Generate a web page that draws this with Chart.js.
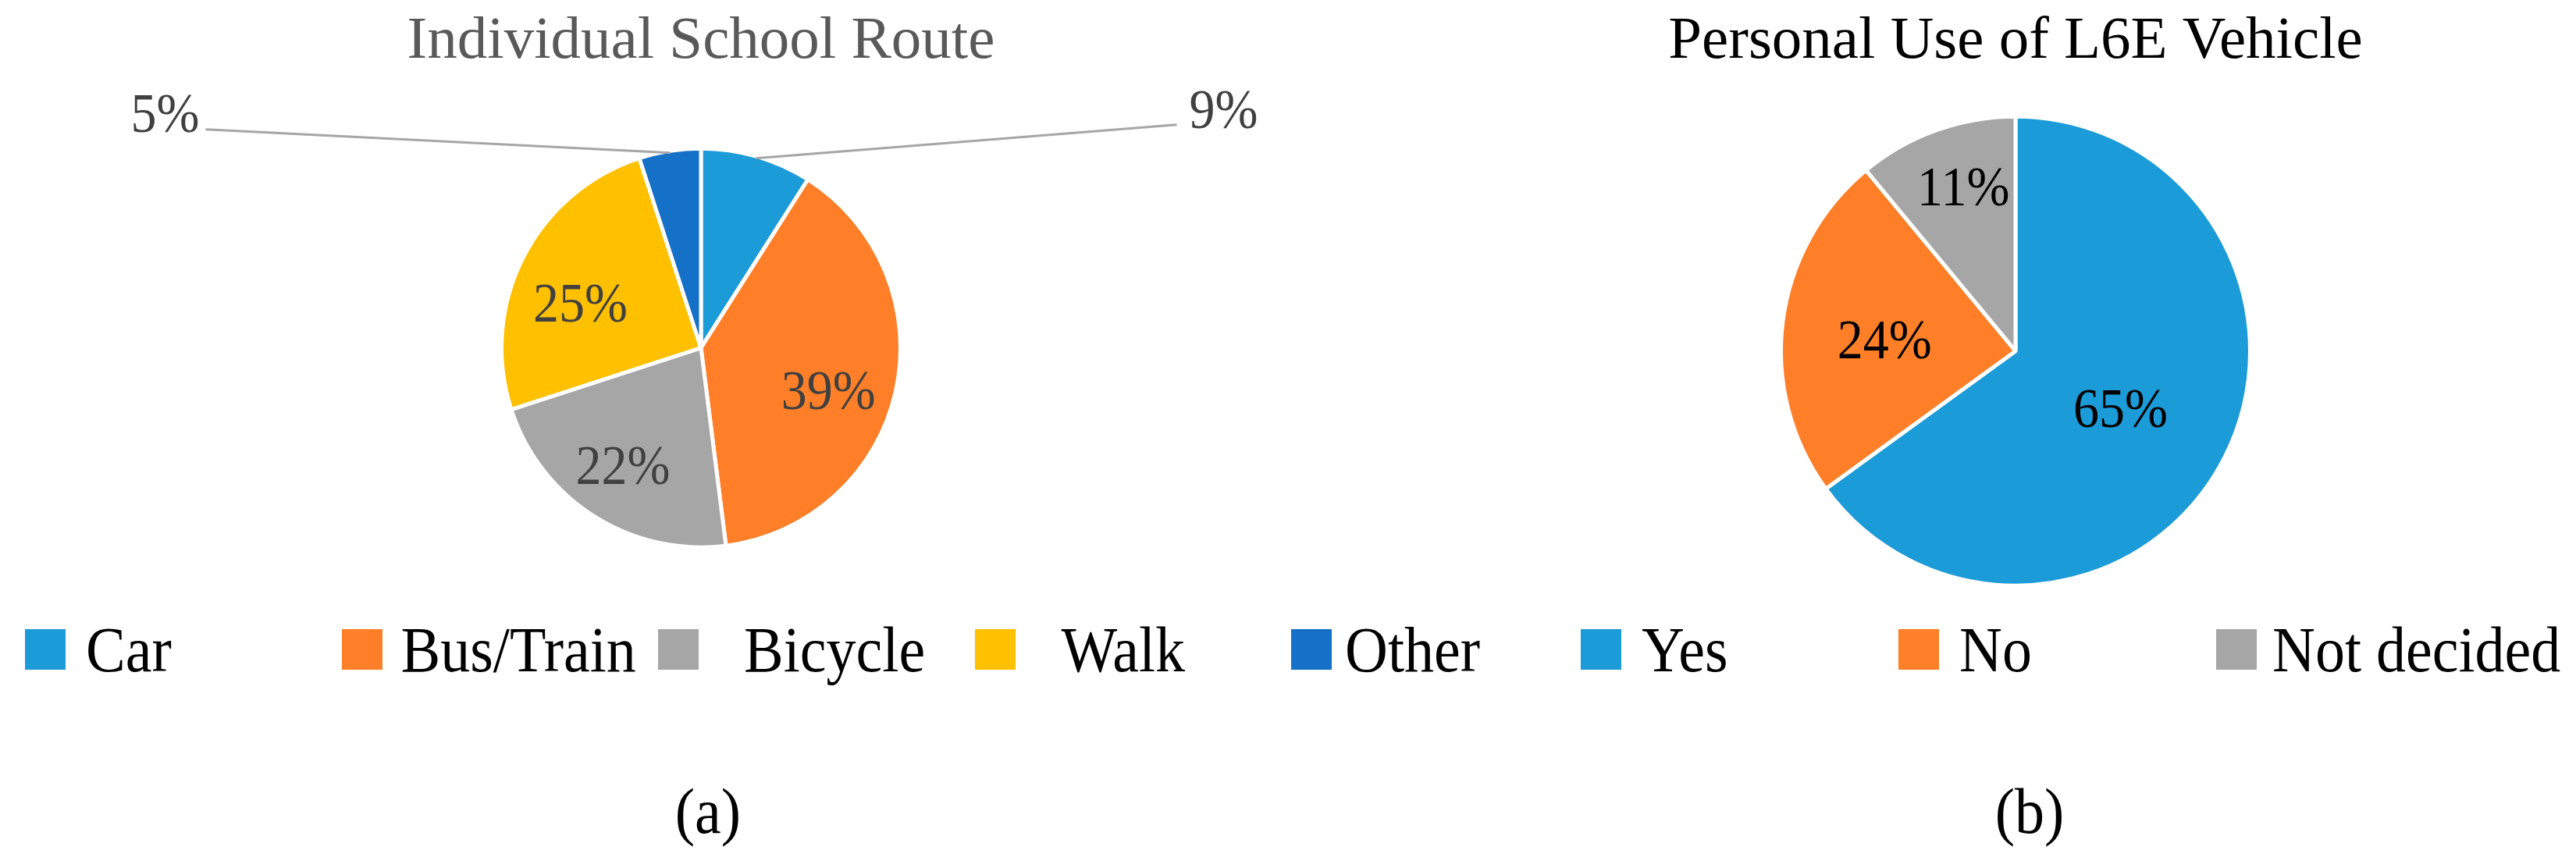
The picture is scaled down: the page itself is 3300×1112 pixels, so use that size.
<!DOCTYPE html>
<html>
<head>
<meta charset="utf-8">
<script src="https://cdn.jsdelivr.net/npm/chart.js@4.4.1/dist/chart.umd.min.js"></script>
<style>
  html, body { margin: 0; padding: 0; background: #ffffff; }
  #wrap { position: relative; width: 3300px; height: 1112px; background: #ffffff; overflow: hidden; }
  canvas { position: absolute; }
  .txt { position: absolute; font-family: "Liberation Serif", "Times New Roman", serif; font-size: 76px; line-height: 76px; white-space: pre; color: #000;
         transform-origin: 0 63.7px; transform: scaleY(1.08); }
  .cap { transform-origin: 50% 63.7px; }
  .sq { position: absolute; width: 52px; height: 52px; }
</style>
</head>
<body>
<div id="wrap">
  <canvas id="chartA" width="1796" height="791" style="left:0px;top:0px;width:1796px;height:791px;"></canvas>
  <canvas id="chartB" width="1436" height="799" style="left:1864px;top:0px;width:1436px;height:799px;"></canvas>
</div>
<script>
// ---------- data ----------
const titleA = "Individual School Route";
const labelsA = ["Car", "Bus/Train", "Bicycle", "Walk", "Other"];
const valuesA = [9, 39, 22, 25, 5];
const colorsA = ["#1b9bd7", "#fe7f27", "#a6a6a6", "#ffc000", "#1570c8"];

const titleB = "Personal Use of L6E Vehicle";
const labelsB = ["Yes", "No", "Not decided"];
const valuesB = [65, 24, 11];
const colorsB = ["#1b9bd7", "#fe7f27", "#a6a6a6"];

const captions = ["(a)", "(b)"];

// ---------- styling ----------
const FONT = '"Liberation Serif", "Times New Roman", serif';
const TEXT_STRETCH = 1.08;

const pieLabels = {
  id: 'pieLabels',
  afterDatasetsDraw(chart, args, opts) {
    const ctx = chart.ctx;
    const meta = chart.getDatasetMeta(0);
    const ds = chart.data.datasets[0];
    const bw = ds.borderWidth || 0;
    const put = (text, x, y, align) => {
      ctx.save();
      ctx.translate(x, y);
      ctx.scale(1, TEXT_STRETCH);
      ctx.textAlign = align;
      ctx.textBaseline = 'alphabetic';
      ctx.fillText(text, 0, 0);
      ctx.restore();
    };
    ctx.save();
    ctx.font = opts.size + 'px ' + FONT;
    ctx.fillStyle = opts.color;
    meta.data.forEach((arc, i) => {
      const p = arc.getProps(['x', 'y', 'startAngle', 'endAngle', 'outerRadius'], true);
      const text = ds.data[i] + '%';
      const mid = (p.startAngle + p.endAngle) / 2;
      const out = (opts.outside || []).find(o => o.index === i);
      if (out) {
        const r = p.outerRadius - bw / 2;
        const ex = p.x + Math.cos(mid) * r, ey = p.y + Math.sin(mid) * r;
        const lx = ex + out.dx, ly = ey + out.dy;
        ctx.strokeStyle = opts.lineColor;
        ctx.lineWidth = opts.lineWidth;
        ctx.beginPath(); ctx.moveTo(ex, ey); ctx.lineTo(lx, ly); ctx.stroke();
        put(text, lx + (out.dx > 0 ? out.gap : -out.gap), ly + out.baseline, out.dx > 0 ? 'left' : 'right');
      } else {
        const f = opts.radial[i];
        const a = mid + (opts.shift[i] || 0) * Math.PI / 180;
        put(text, p.x + Math.cos(a) * p.outerRadius * f,
            p.y + Math.sin(a) * p.outerRadius * f + opts.size * 0.34 * TEXT_STRETCH, 'center');
      }
    });
    ctx.restore();
  }
};

function makePie(id, title, titleColor, labels, values, colors, radius, labelOpts) {
  return new Chart(document.getElementById(id), {
    type: 'pie',
    data: {
      labels: labels,
      datasets: [{
        data: values,
        backgroundColor: colors,
        borderColor: '#ffffff',
        borderWidth: 5,
        radius: radius,
        hoverOffset: 0
      }]
    },
    options: {
      responsive: false,
      animation: false,
      devicePixelRatio: 1,
      events: [],
      layout: { padding: 0 },
      plugins: {
        legend: { display: false },
        tooltip: { enabled: false },
        title: {
          display: true,
          text: title,
          color: titleColor,
          font: { family: FONT, size: 77, weight: 'normal', lineHeight: 1.2 },
          padding: { top: 8, bottom: 0 }
        },
        pieLabels: labelOpts
      }
    },
    plugins: [pieLabels]
  });
}

makePie('chartA', titleA, '#595959', labelsA, valuesA, colorsA, 255.5, {
  size: 66, color: '#404040', lineColor: '#a6a6a6', lineWidth: 3,
  radial: [null, 0.673, 0.705, 0.646, null],
  shift: [0, 5.7, 1.3, -6.4, 0],
  outside: [
    { index: 0, dx: 539, dy: -43, gap: 16, baseline: 4 },
    { index: 4, dx: -595, dy: -30, gap: 8, baseline: 3 }
  ]
});

makePie('chartB', titleB, '#000000', labelsB, valuesB, colorsB, 300.5, {
  size: 66, color: '#000000', lineColor: '#a6a6a6', lineWidth: 3,
  radial: [0.51, 0.56, 0.735],
  shift: [1.6, -2.2, 2.2],
  outside: []
});

// ---------- legends & captions (HTML text) ----------
const wrap = document.getElementById('wrap');
function addLegend(labels, colors, startX, step, gaps) {
  labels.forEach((lab, i) => {
    const x = startX + i * step;
    const sq = document.createElement('div');
    sq.className = 'sq';
    sq.style.left = x + 'px';
    sq.style.top = '806px';
    sq.style.background = colors[i];
    wrap.appendChild(sq);
    const t = document.createElement('div');
    t.className = 'txt';
    t.style.left = (x + gaps[i]) + 'px';
    t.style.top = '796px';
    t.textContent = lab;
    wrap.appendChild(t);
  });
}
addLegend(labelsA, colorsA, 32, 405.5, [78, 76, 110, 111, 69]);
addLegend(labelsB, colorsB, 2025, 407, [78, 78, 72]);

function addCaption(text, cx) {
  const t = document.createElement('div');
  t.className = 'txt cap';
  t.style.top = '1003px';
  t.style.left = (cx - 200) + 'px';
  t.style.width = '400px';
  t.style.textAlign = 'center';
  t.textContent = text;
  wrap.appendChild(t);
}
addCaption(captions[0], 907);
addCaption(captions[1], 2600);
</script>
</body>
</html>
